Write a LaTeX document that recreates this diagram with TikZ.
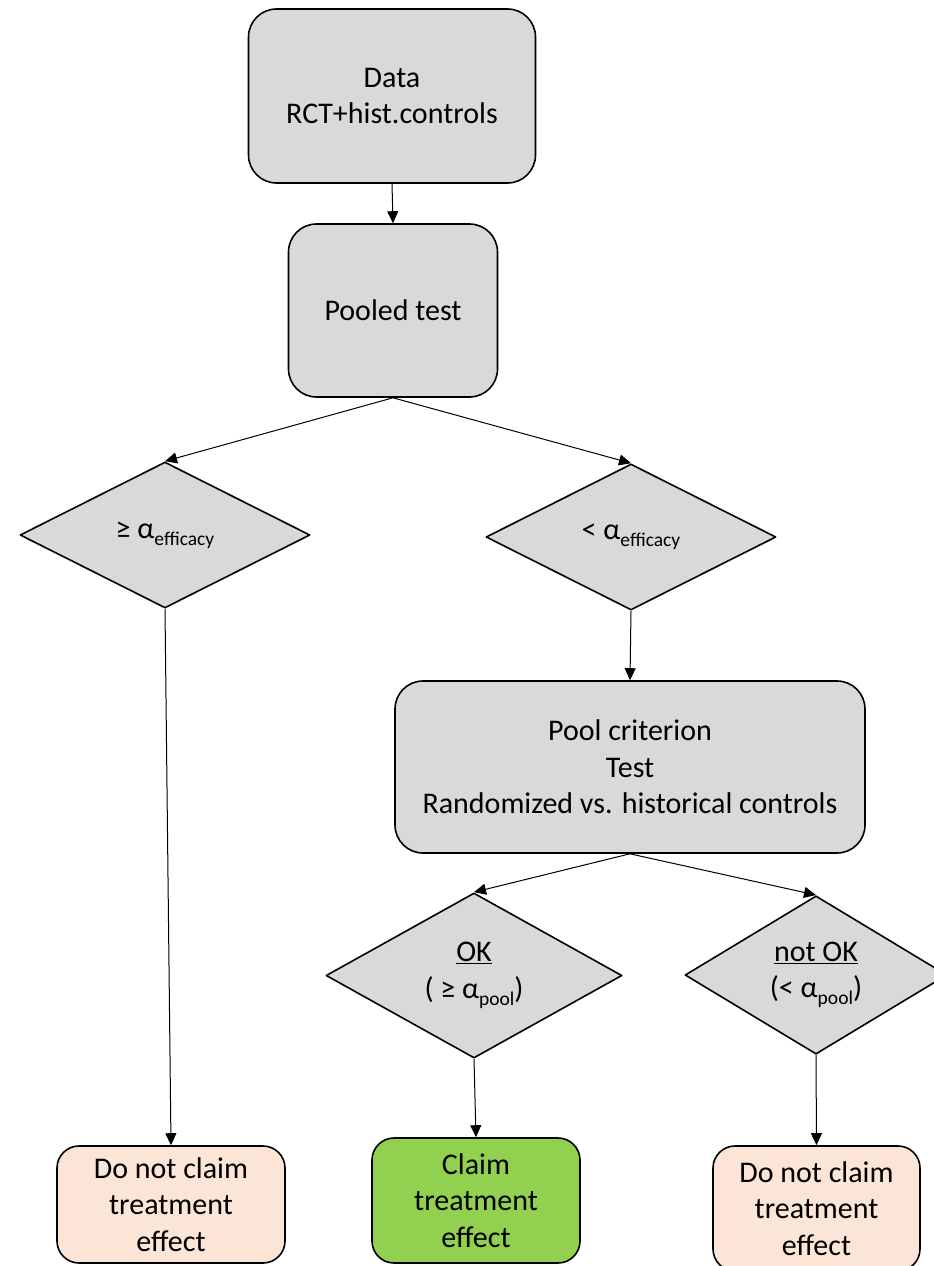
\documentclass[tikz,border=0pt]{standalone}
\usepackage{fontspec}
\setmainfont{Carlito}
\usepackage{xcolor}
\usetikzlibrary{shapes.geometric, arrows.meta}

\definecolor{boxgray}{HTML}{D9D9D9}
\definecolor{peach}{HTML}{FBE5D6}
\definecolor{okgreen}{HTML}{92D050}

\newcommand{\lowtext}[1]{\raisebox{-7pt}{\fontsize{19.5}{19.5}\selectfont #1}}

\begin{document}
\begin{tikzpicture}[x=1pt, y=-1pt, line join = round,
    every node/.style={font=\fontsize{30}{36.5}\selectfont, inner sep=0pt, align=center},
    box/.style={draw, line width=1.6pt, rounded corners=28pt, fill=boxgray},
    decision/.style={draw, diamond, line width=1.6pt, fill=boxgray, minimum width=290pt, minimum height=146pt},
    nogo/.style={box, rounded corners=22pt, fill=peach},
    go/.style={box, rounded corners=22pt, fill=okgreen},
    arrow/.style={line width=1pt, -{Triangle[length=12pt, width=11pt]}}]

    \useasboundingbox (0,0) rectangle (934,1266);

    % top boxes
    \node [box, minimum width=287pt, minimum height=174pt] (1) at (392,96) {Data\\RCT+hist.controls};
    \node [box, minimum width=209pt, minimum height=173pt] (2) at (393,310.5) {Pooled test};

    % efficacy decision
    \node [decision] (3) at (165,535) {≥ α\lowtext{efficacy}};
    \node [decision] (4) at (631,537) {< α\lowtext{efficacy}};

    \node [box, minimum width=470pt, minimum height=172pt] (5) at (630,767) {Pool criterion\\Test\\Randomized vs. historical controls};

    % pool decision
    \node [decision, minimum width=296pt, minimum height=145pt] (6) at (474,975.5) {\underline{OK}\\( ≥ α\lowtext{pool})};
    \node [decision, minimum width=262pt, minimum height=144pt] (7) at (816,975) {\underline{not OK}\\(< α\lowtext{pool})};

    % outcomes
    \node [nogo, minimum width=228pt, minimum height=117pt] (8) at (171,1204.5) {Do not claim\\treatment\\effect};
    \node [go, minimum width=208pt, minimum height=125pt] (9) at (476,1200.5) {Claim\\treatment\\effect};
    \node [nogo, minimum width=207pt, minimum height=125pt] (10) at (816.5,1208.5) {Do not claim\\treatment\\effect};

    \draw [arrow] (1.south) -- (2.north);
    \draw [arrow] (2.south) -- (3.north);
    \draw [arrow] (2.south) -- (4.north);
    \draw [arrow] (4.south) -- (5.north);
    \draw [arrow] (5.south) -- (6.north);
    \draw [arrow] (5.south) -- (7.north);
    \draw [arrow] (3.south) -- (8.north);
    \draw [arrow] (6.south) -- (9.north);
    \draw [arrow] (7.south) -- (10.north);

\end{tikzpicture}
\end{document}
